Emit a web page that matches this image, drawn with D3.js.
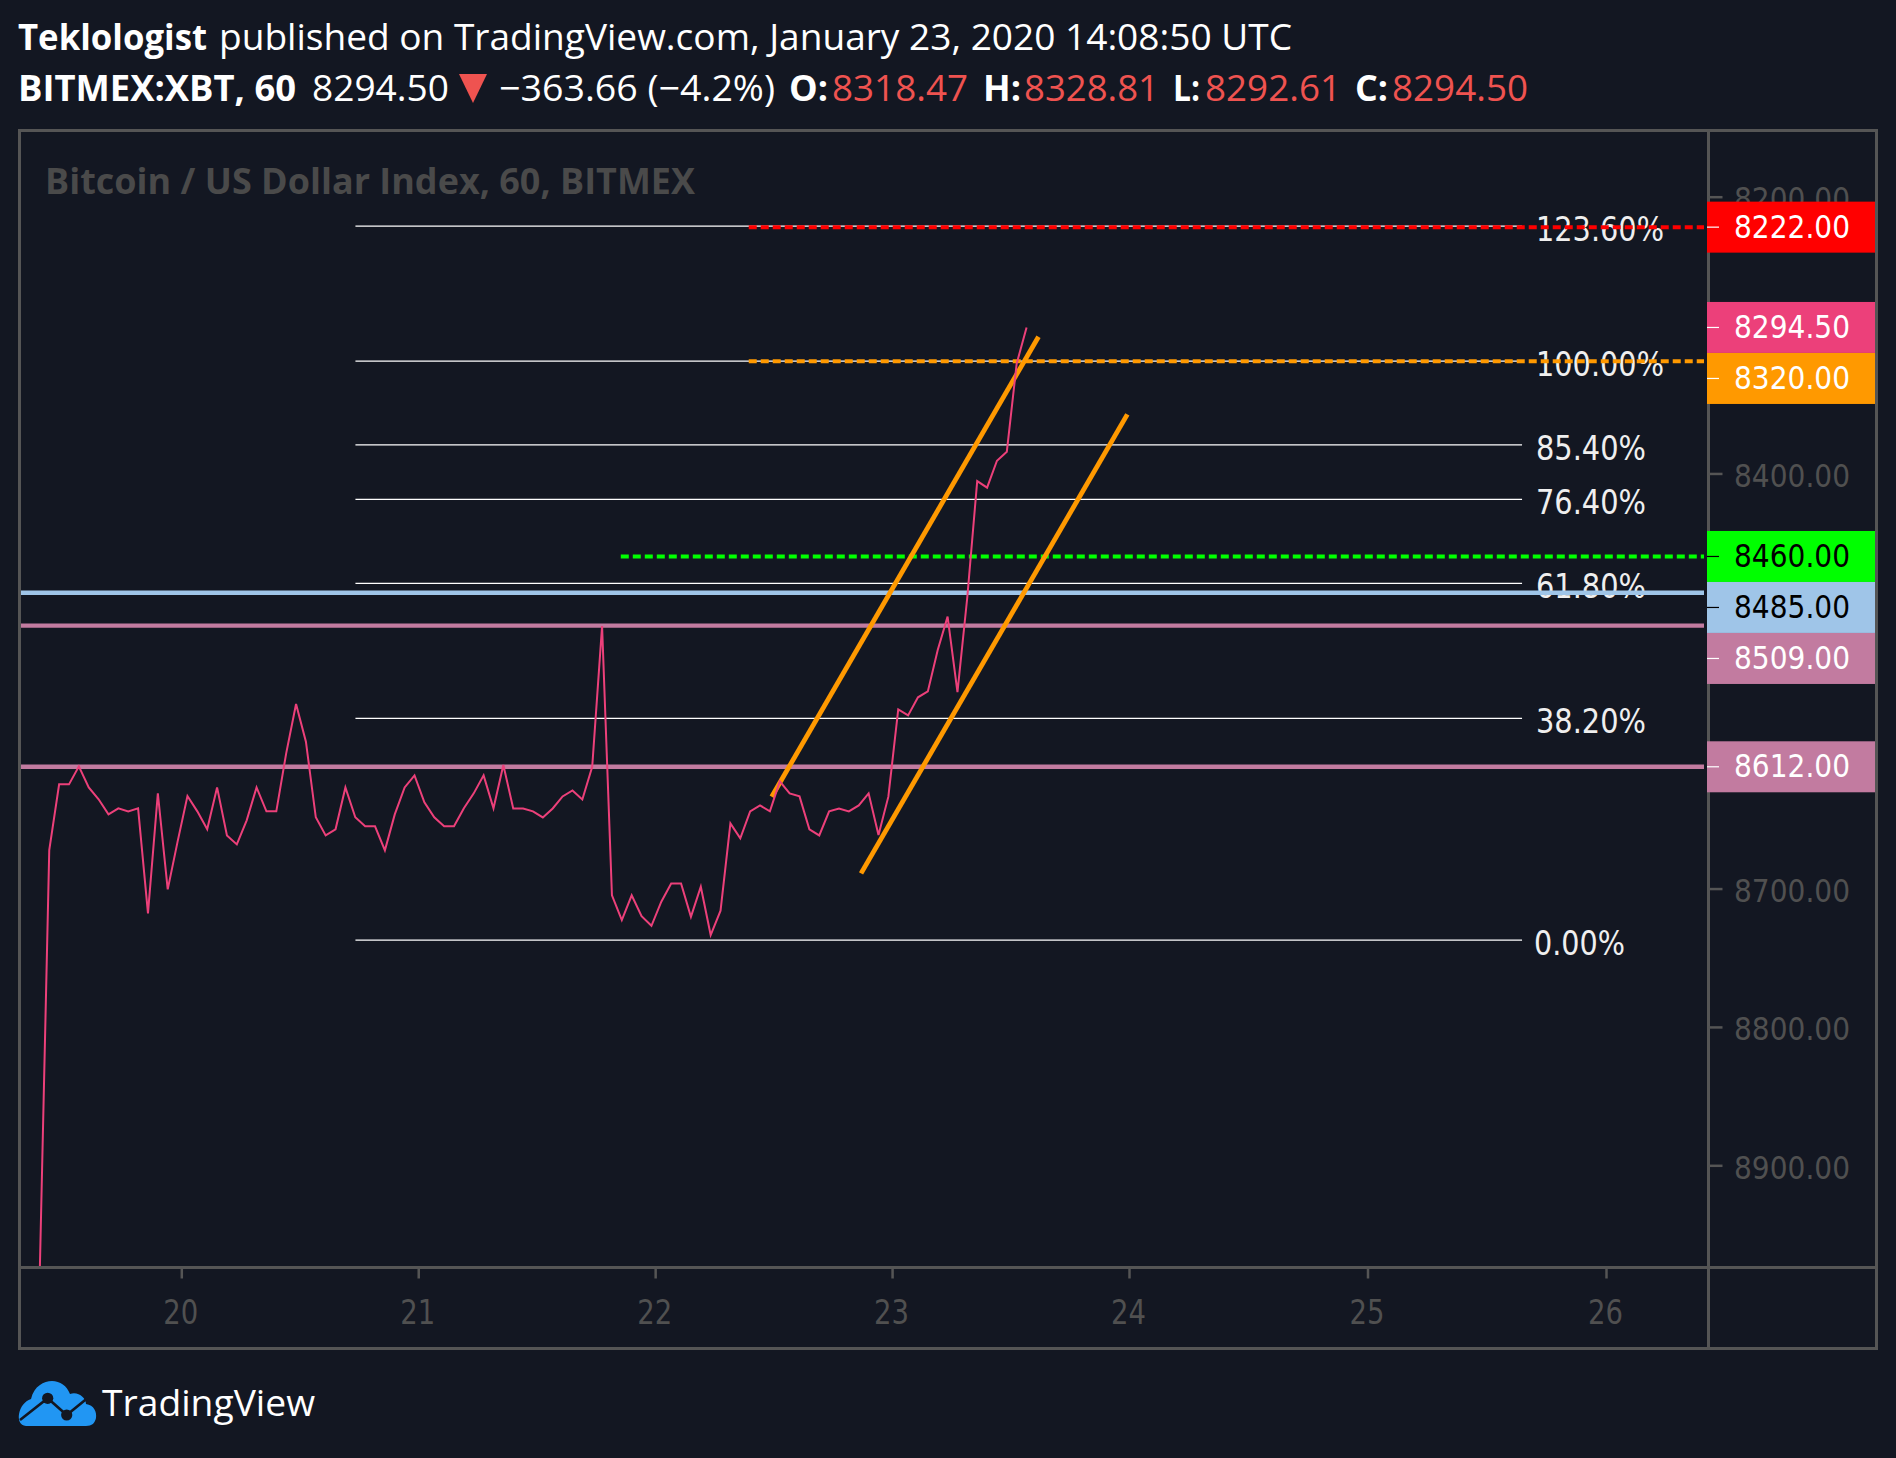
<!DOCTYPE html>
<html><head><meta charset="utf-8">
<script src="https://d3js.org/d3.v7.min.js"></script>
<style>html,body{margin:0;padding:0;background:#131722;overflow:hidden}svg{display:block}</style>
</head><body><svg id="c" width="1896" height="1458"></svg>
<script>
const startDay = 19.401; // first hourly sample
const closes = [8990,
8672.2,8624.7,8624.7,8611.7,8626.9,8635.5,8646.4,8642,8644.2,8642,
8717.9,8631.2,8700.6,8666.1,8633.1,8644.2,8657.2,8626.9,8661.6,8668.1,
8650.7,8626.9,8644.2,8644.2,8602.3,8566.6,8593.9,8648.5,8661.6,8657.2,
8626.9,8648.5,8655,8655,8672.4,8646.4,8626.9,8618.2,8637.7,8648.5,
8655,8655,8642,8631.2,8618.2,8642,
8610.7,8642.1,8642.1,8644.2,8648.6,8642.1,8633.4,8629.1,8635.6,8612,
8510.3,8704.9,8722.8,8704.9,8719.9,8726.9,8709.5,8696.3,8696.3,8720.4,
8698.7,8733.6,8716,8652.9,8663.7,8644.2,8639.9,8644.2,8622.5,8631.2,
8633.4,8657.2,8661.6,8644.2,8642.1,8644.2,8639.9,8631.2,8661.3,8633.6,
8570.5,8574.9,8561.8,8557.5,8527.6,8503.5,8558,
8489.1,8405.5,8410.3,8390.8,8384.3,8320.5,8294.5];

const dayTicks = [20,21,22,23,24,25,26];
const priceTicks = [8200,8400,8700,8800,8900];

const fibNames  = ["0.00%","38.20%","61.80%","76.40%","85.40%","100.00%","123.60%"];
const fibPrices = [8737.2,8577,8479.4,8418.7,8379.4,8318.8,8221.2];
const fibDays   = [20.735,25.648];

const boxPrices = [8222,8294.5,8320,8460,8485,8509,8612];
const boxColors = ["#ff0000","#ec407a","#ff9900","#00ff00","#9fc5e8","#c27ba0","#c27ba0"];
const boxInk    = ["#fff","#fff","#fff","#000","#000","#fff","#fff"];

const hLevels  = [8222,8319,8460,8486.2,8510,8612];
const hColors  = ["#ff0000","#ff9900","#00ff00","#9fc5e8","#c27ba0","#c27ba0"];
const hStarts  = [22.395,22.395,21.855,19.0,19.0,19.0];
const hDashed  = [true,true,true,false,false,false];

const channels = [
  [[22.492,8633.6],[23.618,8301.2]],
  [[22.869,8689],[23.993,8357.3]]
];

const BG="#131722", GRID="#555555", INK="#505050", RED="#ef5350";
const svg = d3.select("#c");
const x = d3.scaleLinear().domain([20,24,26]).range([181.3,1129,1606]);
const y = d3.scaleLinear().domain([8200,8900]).range([196.7,1165.3]);

const defs = svg.append("defs");
defs.append("clipPath").attr("id","pane").append("rect").attr("x",21).attr("y",132).attr("width",1683).attr("height",1134);

// frame
const frame = svg.append("g").attr("fill","none").attr("stroke",GRID).attr("stroke-width",3);
frame.append("rect").attr("x",19.5).attr("y",130.5).attr("width",1857).attr("height",1218);
frame.append("line").attr("x1",19.5).attr("x2",1876.5).attr("y1",1267.5).attr("y2",1267.5);
frame.append("line").attr("x1",1708.5).attr("x2",1708.5).attr("y1",130.5).attr("y2",1348.5);

const DEJAVU = "'DejaVu Sans',sans-serif", OPEN="'Open Sans','Noto Sans',sans-serif";

// axes
const ax = svg.append("g").attr("transform","translate(0,1267.5)")
  .call(d3.axisBottom(x).tickValues(dayTicks).tickFormat(d3.format("d")).tickSize(11).tickPadding(0));
ax.select(".domain").remove();
ax.selectAll("line").attr("stroke",GRID).attr("stroke-width",2.5);
ax.selectAll("text").attr("fill",INK).attr("font-family",DEJAVU).attr("font-size",34)
  .attr("font-weight",400).attr("dy",0).attr("y",56).attr("x",-1).attr("text-anchor","middle")
  .attr("textLength",35).attr("lengthAdjust","spacingAndGlyphs");

const ay = svg.append("g").attr("transform","translate(1708.5,0)")
  .call(d3.axisRight(y).tickValues(priceTicks).tickFormat(d3.format(".2f")).tickSize(14).tickPadding(0));
ay.select(".domain").remove();
ay.selectAll("line").attr("stroke",GRID).attr("stroke-width",2.5);
ay.selectAll("text").attr("fill",INK).attr("font-family",DEJAVU).attr("font-size",32.5)
  .attr("dy",0).attr("y",13).attr("x",25.5).attr("text-anchor","start")
  .attr("textLength",116).attr("lengthAdjust","spacingAndGlyphs");

// watermark
svg.append("text").attr("x",45).attr("y",194).attr("fill","#4a4a4a").attr("font-family",OPEN)
  .attr("font-size",35).attr("font-weight",700).attr("textLength",650).attr("lengthAdjust","spacingAndGlyphs")
  .text("Bitcoin / US Dollar Index, 60, BITMEX");

// fibonacci
const fib = svg.append("g");
fib.selectAll("line").data(fibPrices).join("line")
  .attr("x1",x(fibDays[0])).attr("x2",x(fibDays[1]))
  .attr("y1",d=>y(d)).attr("y2",d=>y(d)).attr("stroke","#ffffff").attr("stroke-width",1.3);
fib.selectAll("text").data(fibPrices).join("text")
  .attr("x",(d,i)=>i===0?1534:1536).attr("y",d=>y(d)+15)
  .attr("fill","#efefef").attr("font-family",DEJAVU).attr("font-size",34)
  .attr("textLength",(d,i)=>fibNames[i].length===5?91:fibNames[i].length===6?110:128)
  .attr("lengthAdjust","spacingAndGlyphs")
  .text((d,i)=>fibNames[i]);

// horizontal levels
const hl = svg.append("g").attr("clip-path","url(#pane)");
hl.selectAll("line").data(hLevels).join("line")
  .attr("x1",(d,i)=>x(hStarts[i])).attr("x2",1704)
  .attr("y1",d=>y(d)).attr("y2",d=>y(d))
  .attr("stroke",(d,i)=>hColors[i]).attr("stroke-width",(d,i)=>hDashed[i]?4:4.4)
  .attr("stroke-dasharray",(d,i)=>hDashed[i]?"8 4":null);

// channel
const ch = d3.line().x(d=>x(d[0])).y(d=>y(d[1]));
svg.append("g").selectAll("path").data(channels).join("path")
  .attr("d",ch).attr("fill","none").attr("stroke","#ff9900").attr("stroke-width",4.8);

// price line
svg.append("path").attr("clip-path","url(#pane)").datum(closes)
  .attr("d",d3.line().x((d,i)=>x(startDay+i/24)).y(d=>y(d)))
  .attr("fill","none").attr("stroke","#ec407a").attr("stroke-width",2).attr("stroke-linejoin","miter");

// price boxes, pushed down when they would overlap
const H=51; let prev=-1e9;
const centres = boxPrices.map(p=>{const c=Math.max(y(p),prev+H); prev=c; return c;});
const bx = svg.append("g").selectAll("g").data(boxPrices).join("g")
  .attr("transform",(d,i)=>`translate(1707,${centres[i]})`);
bx.append("rect").attr("x",0).attr("y",-H/2).attr("width",168).attr("height",H).attr("fill",(d,i)=>boxColors[i]);
bx.append("line").attr("x1",0).attr("x2",12).attr("y1",0).attr("y2",0).attr("stroke",(d,i)=>boxInk[i]).attr("stroke-width",1.2);
bx.append("text").attr("x",27).attr("y",10.5).attr("fill",(d,i)=>boxInk[i]).attr("font-family",DEJAVU).attr("font-size",32.5)
  .attr("textLength",116).attr("lengthAdjust","spacingAndGlyphs").text(d3.format(".2f"));

// header
const head = svg.append("g").attr("font-family",OPEN).attr("font-size",36);
function t(s,x0,w,yy,fill,bold){
  head.append("text").attr("x",x0).attr("y",yy).attr("fill",fill).attr("font-weight",bold?700:400)
    .attr("textLength",w).attr("lengthAdjust","spacingAndGlyphs").text(s);
}
t("Teklologist",18,189,50,"#fff",true);
t("published on TradingView.com, January 23, 2020 14:08:50 UTC",219,1073,50,"#fff",false);
t("BITMEX:XBT, 60",18,278,101,"#fff",true);
t("8294.50",312,137,101,"#fff",false);
head.append("path").attr("d","M459 74H487L473 103Z").attr("fill",RED);
t("\u2212363.66 (\u22124.2%)",499,276,101,"#fff",false);
t("O:",789,39,101,"#fff",true);
t("8318.47",832,136,101,RED,false);
t("H:",983,38,101,"#fff",true);
t("8328.81",1024,135,101,RED,false);
t("L:",1173,27,101,"#fff",true);
t("8292.61",1205,136,101,RED,false);
t("C:",1355,33,101,"#fff",true);
t("8294.50",1392,136,101,RED,false);

// logo
const logo = svg.append("g");
logo.append("path").attr("fill","#2196f3")
  .attr("d","M26 1426C14 1425 18 1403 31 1399C34 1386 44 1381 52 1381C60 1381 67 1386 70 1394C78 1391 86 1398 86 1404C94 1405 97 1412 96 1418C95 1423 92 1426 86 1426Z");
logo.append("path").attr("fill","none").attr("stroke",BG).attr("stroke-width",2.6)
  .attr("d","M20 1420L47.7 1398.3L66.7 1415L87.3 1398.3");
logo.append("circle").attr("cx",47.7).attr("cy",1398.3).attr("r",5.6).attr("fill",BG);
logo.append("circle").attr("cx",66.7).attr("cy",1415).attr("r",5.6).attr("fill",BG);
svg.append("text").attr("x",102).attr("y",1416).attr("fill","#fff").attr("font-family",OPEN).attr("font-size",36)
  .attr("textLength",213).attr("lengthAdjust","spacingAndGlyphs").text("TradingView");
</script></body></html>
